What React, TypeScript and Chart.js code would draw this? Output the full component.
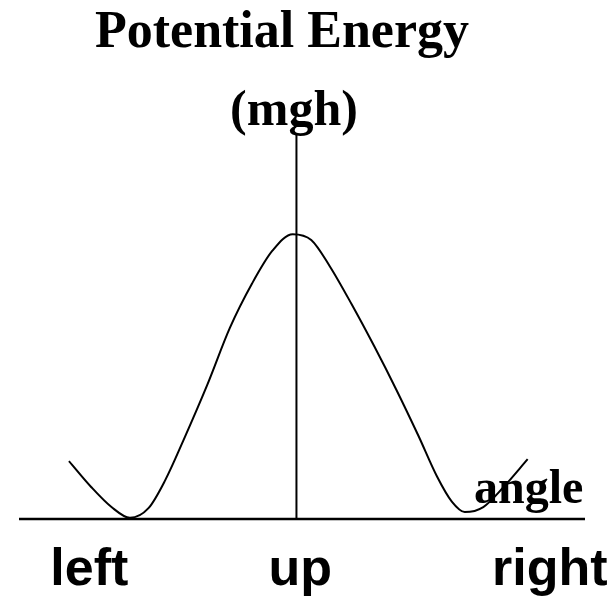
import React, { useEffect, useRef } from "react";
import { Chart, registerables } from "chart.js";

Chart.register(...registerables);

// angle (arbitrary degrees, 0 = straight up) and potential energy (0..100 scale)
const angles = [-123, -111, -100, -90, -80, -71, -61, -48, -36, -24, -13, -2, 8, 18, 30, 42, 54, 66, 76, 84, 91, 101, 112, 125];
const energy = [15, 8.3, 3.1, 0.3, 2.8, 10, 20.5, 35, 49.5, 61, 69.5, 73.8, 72.3, 65.5, 55.5, 44.8, 33.5, 21.5, 11, 4.5, 1.8, 3.1, 8.3, 15.5];

const tickLabels = ["left", "up", "right"];
const tickValues = [-112, 2, 137];
const titleLines = ["Potential Energy", "(mgh)"];
const axisLabel = "angle";

export default function App() {
  const ref = useRef<HTMLCanvasElement | null>(null);

  useEffect(() => {
    const canvas = ref.current;
    if (!canvas) return;

    const overlay = {
      id: "overlay",
      beforeDatasetsDraw(chart: any) {
        const { ctx, scales } = chart;
        const xs = scales.x;
        const ys = scales.y;
        const y0 = ys.getPixelForValue(0);
        const x0 = xs.getPixelForValue(0);
        ctx.save();
        ctx.strokeStyle = "#000";
        ctx.lineWidth = 2.5;
        ctx.beginPath();
        ctx.moveTo(xs.left, y0);
        ctx.lineTo(xs.right, y0);
        ctx.stroke();
        ctx.lineWidth = 2;
        ctx.beginPath();
        ctx.moveTo(x0, ys.top);
        ctx.lineTo(x0, y0);
        ctx.stroke();

        ctx.fillStyle = "#000";
        ctx.textBaseline = "alphabetic";
        // title
        ctx.font = "bold 52px 'Liberation Serif', 'Times New Roman', serif";
        ctx.textAlign = "center";
        ctx.fillText(titleLines[0], 282, 47);
        ctx.font = "bold 50px 'Liberation Serif', 'Times New Roman', serif";
        ctx.fillText(titleLines[1], 294, 125);
        // axis label
        ctx.font = "bold 48px 'Liberation Serif', 'Times New Roman', serif";
        ctx.textAlign = "left";
        ctx.fillText(axisLabel, 474, 503);
        // tick labels
        ctx.font = "bold 52px 'Liberation Sans', Arial, sans-serif";
        ctx.textAlign = "center";
        tickLabels.forEach((t, i) => {
          ctx.fillText(t, xs.getPixelForValue(tickValues[i]), 585);
        });
        ctx.restore();
      },
    };

    const chart = new Chart(canvas, {
      type: "scatter",
      data: {
        datasets: [
          {
            data: angles.map((a, i) => ({ x: a, y: energy[i] })),
            showLine: true,
            borderColor: "#000",
            borderWidth: 2,
            pointRadius: 0,
            fill: false,
            cubicInterpolationMode: "monotone",
          },
        ],
      },
      options: {
        animation: false,
        responsive: false,
        events: [],
        layout: { padding: { left: 19, right: 29, top: 133, bottom: 80 } },
        plugins: { legend: { display: false }, tooltip: { enabled: false }, title: { display: false } },
        scales: {
          x: { type: "linear", display: false, min: -150, max: 156 },
          y: { type: "linear", display: false, min: 0, max: 100 },
        },
      },
      plugins: [overlay],
    } as any);

    return () => chart.destroy();
  }, []);

  return (
    <div style={{ position: "absolute", left: 0, top: 0, width: 614, height: 599, background: "#fff" }}>
      <canvas ref={ref} width={614} height={599} style={{ display: "block", width: 614, height: 599 }} />
    </div>
  );
}
